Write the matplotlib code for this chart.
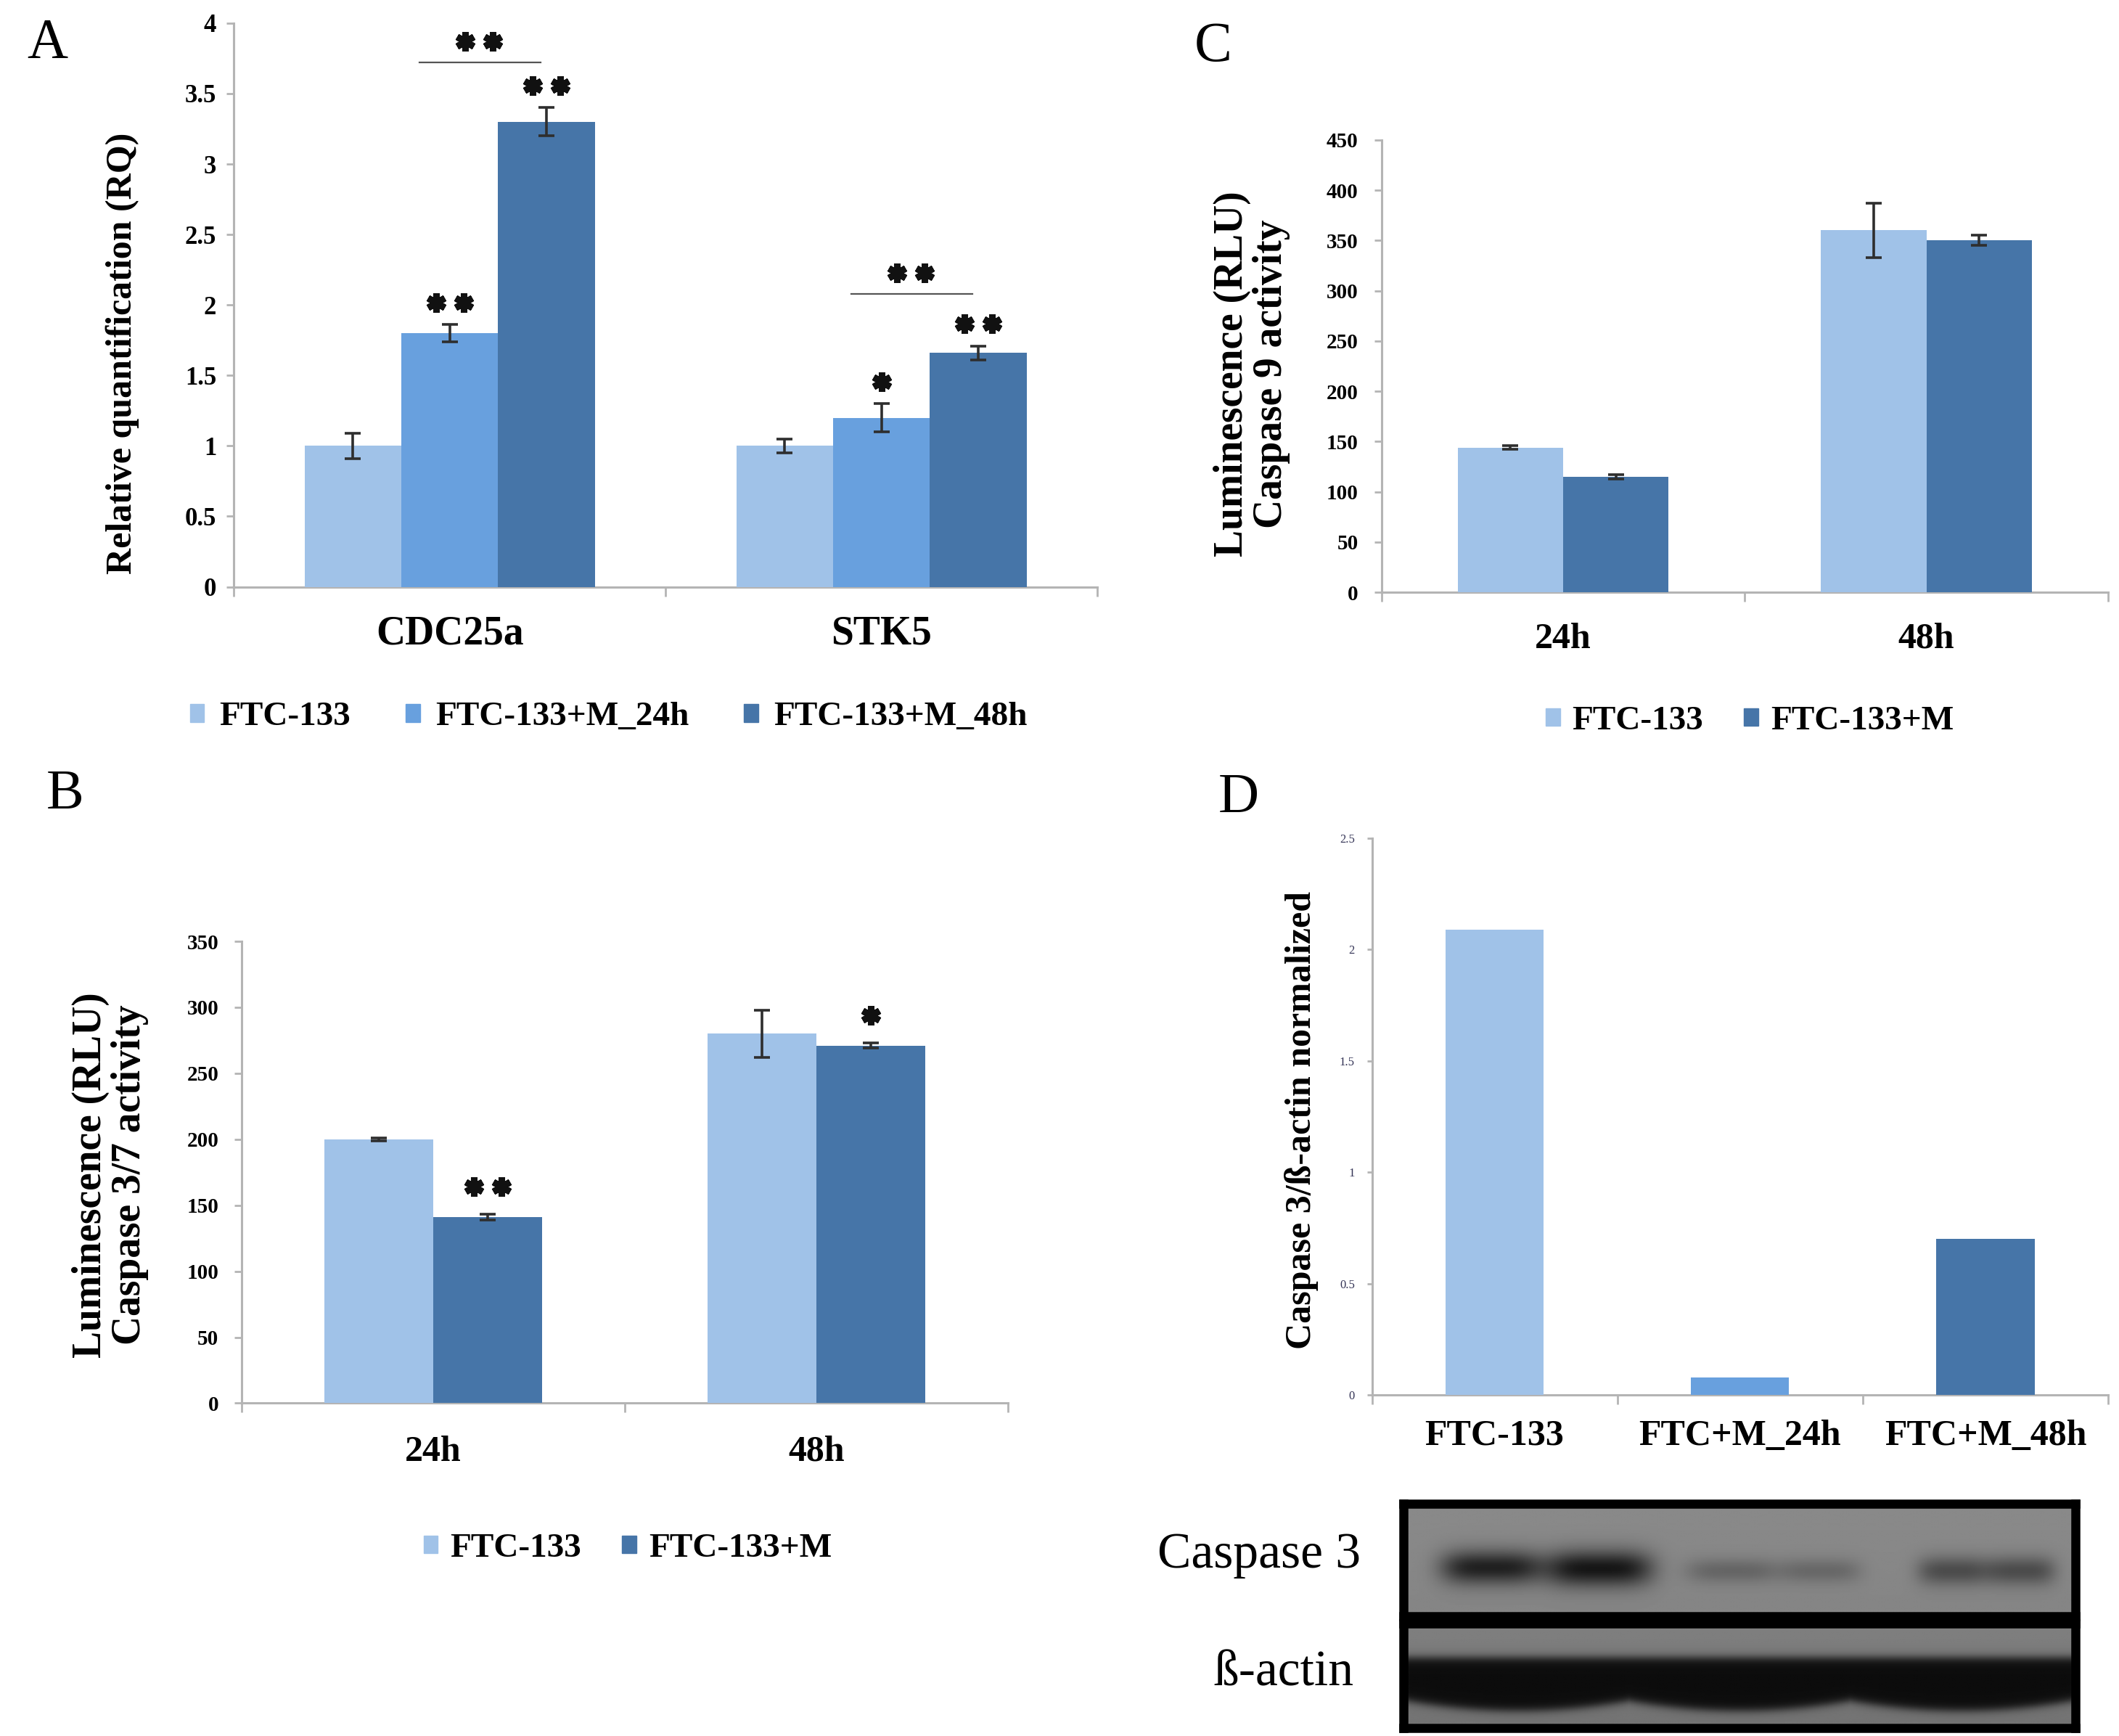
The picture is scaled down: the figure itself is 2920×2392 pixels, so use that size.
import numpy as np
import matplotlib
matplotlib.use('Agg')
import matplotlib.pyplot as plt
from matplotlib.patches import Patch

# ---------------- data ----------------
a_genes = ['CDC25a', 'STK5']
a_series = ['FTC-133', 'FTC-133+M_24h', 'FTC-133+M_48h']
a_ftc = [1.00, 1.00]
a_m24 = [1.80, 1.20]
a_m48 = [3.30, 1.66]
a_ftc_err = [0.09, 0.05]
a_m24_err = [0.06, 0.10]
a_m48_err = [0.10, 0.05]
a_yticks = [0, 0.5, 1, 1.5, 2, 2.5, 3, 3.5, 4]
a_yticklabels = ['0', '0.5', '1', '1.5', '2', '2.5', '3', '3.5', '4']
# (gene index, series index, number of stars)
a_bar_stars = [(0, 1, 2), (0, 2, 2), (1, 1, 1), (1, 2, 2)]
# (gene index, number of stars, bracket level)
a_brackets = [(0, 2, 3.72), (1, 2, 2.08)]

b_times = ['24h', '48h']
b_series = ['FTC-133', 'FTC-133+M']
b_ftc = [200, 280]
b_m = [141, 271]
b_ftc_err = [1, 18]
b_m_err = [2, 2]
b_yticks = [0, 50, 100, 150, 200, 250, 300, 350]
b_bar_stars = [(0, 1, 2), (1, 1, 1)]

c_times = ['24h', '48h']
c_series = ['FTC-133', 'FTC-133+M']
c_ftc = [144, 360]
c_m = [115, 350]
c_ftc_err = [2, 27]
c_m_err = [2, 5]
c_yticks = [0, 50, 100, 150, 200, 250, 300, 350, 400, 450]

d_groups = ['FTC-133', 'FTC+M_24h', 'FTC+M_48h']
d_values = [2.09, 0.08, 0.70]
d_yticks = [0, 0.5, 1, 1.5, 2, 2.5]
d_yticklabels = ['0', '0.5', '1', '1.5', '2', '2.5']

blot_labels = ['Caspase 3', 'ß-actin']

# ---------------- style ----------------
plt.rcParams['font.family'] = ['Liberation Serif', 'DejaVu Serif']
LIGHT = '#A0C2E8'
MID = '#68A0DE'
DARK = '#4675A8'
AXG = '#B4B4B4'
ERR = '#2E2E2E'

W, H = 1560.0, 1278.0  # layout reference grid
FIG_W_PX = 2920


def rect(x0, y0, x1, y1):
    return [x0 / W, 1 - y1 / H, (x1 - x0) / W, (y1 - y0) / H]


fig = plt.figure(figsize=(29.2, 23.92), dpi=100)


def style_axes(ax, ncat, ymax, yticks, yticklabels, cats, tick_fs, cat_fs,
               cat_pad, tick_pad, tick_weight='bold', tick_len=7):
    ax.set_xlim(-0.5, ncat - 0.5)
    ax.set_ylim(0, ymax)
    for s in ['top', 'right']:
        ax.spines[s].set_visible(False)
    for s in ['left', 'bottom']:
        ax.spines[s].set_color(AXG)
        ax.spines[s].set_linewidth(2.2)
    ax.set_xticks(range(ncat))
    ax.set_xticklabels(cats, fontsize=cat_fs, fontweight='bold')
    ax.tick_params(axis='x', which='major', length=0, pad=cat_pad)
    ax.set_xticks(np.arange(-0.5, ncat, 1.0), minor=True)
    ax.tick_params(axis='x', which='minor', length=9, width=2, color=AXG)
    ax.set_yticks(yticks)
    ax.set_yticklabels(yticklabels, fontsize=tick_fs, fontweight=tick_weight)
    ax.tick_params(axis='y', length=tick_len, width=2, color=AXG, pad=tick_pad)
    ax.set_facecolor('none')


def stars(ax, x, y, n, ncat):
    # heavy six-armed asterisks, 38 px apart
    ax_w_px = ax.get_position().width * FIG_W_PX
    step = 38.0 / (ax_w_px / ncat)
    xs = [x + (k - (n - 1) / 2) * step for k in range(n)]
    ax.plot(xs, [y] * n, linestyle='none', marker=(6, 2, 0), ms=19, mew=6.5,
            color='#111111', zorder=5)


ekw = dict(fmt='none', ecolor=ERR, elinewidth=2.6, capsize=8, capthick=2.6, zorder=4)

# ---------------- panel A ----------------
axA = fig.add_axes(rect(172, 17, 808, 432))
wA = 0.224
xa = np.arange(len(a_genes))
a_vals = [a_ftc, a_m24, a_m48]
a_errs = [a_ftc_err, a_m24_err, a_m48_err]
a_cols = [LIGHT, MID, DARK]
for i in range(3):
    xs = xa + (i - 1) * wA
    axA.bar(xs, a_vals[i], width=wA, color=a_cols[i], zorder=3)
    axA.errorbar(xs, a_vals[i], yerr=a_errs[i], **ekw)
style_axes(axA, 2, 4, a_yticks, a_yticklabels, a_genes, 25, 40, 28, 10)
for g, si, n in a_bar_stars:
    top = a_vals[si][g] + a_errs[si][g]
    stars(axA, g + (si - 1) * wA, top + 0.155, n, 2)
for g, n, lvl in a_brackets:
    axA.plot([g - 0.07, g + 0.21], [lvl, lvl], color='#555555', lw=1.6, zorder=4)
    stars(axA, g + 0.068, lvl + 0.15, n, 2)
axA.text(-0.129, 0.414, 'Relative quantification (RQ)', transform=axA.transAxes,
         rotation=90, ha='center', va='center', fontsize=36, fontweight='bold')
fig.legend([Patch(color=c) for c in a_cols], a_series, loc='center',
           bbox_to_anchor=(448 / W, 1 - 528 / H), ncol=3, frameon=False,
           handlelength=0.42, handleheight=0.42, handletextpad=0.45,
           columnspacing=1.6, prop={'weight': 'bold', 'size': 34})

# ---------------- panel C ----------------
axC = fig.add_axes(rect(1017, 103, 1552, 436))
wC = 0.29
xc = np.arange(len(c_times))
for i, (v, e, c) in enumerate([(c_ftc, c_ftc_err, LIGHT), (c_m, c_m_err, DARK)]):
    xs = xc + (i - 0.5) * wC
    axC.bar(xs, v, width=wC, color=c, zorder=3)
    axC.errorbar(xs, v, yerr=e, **ekw)
style_axes(axC, 2, 450, c_yticks, [str(t) for t in c_yticks], c_times, 21, 36, 30, 16)
axC.text(-0.178, 0.483, 'Luminescence (RLU)\nCaspase 9 activity', transform=axC.transAxes,
         rotation=90, ha='center', va='center', fontsize=40, fontweight='bold',
         linespacing=1.05, multialignment='center')
fig.legend([Patch(color=LIGHT), Patch(color=DARK)], c_series, loc='center',
           bbox_to_anchor=(1288 / W, 1 - 531 / H), ncol=2, frameon=False,
           handlelength=0.42, handleheight=0.42, handletextpad=0.35,
           columnspacing=1.2, prop={'weight': 'bold', 'size': 34})

# ---------------- panel B ----------------
axB = fig.add_axes(rect(178, 693, 742, 1033))
wB = 0.284
xb = np.arange(len(b_times))
b_vals = [b_ftc, b_m]
b_errs = [b_ftc_err, b_m_err]
for i, c in enumerate([LIGHT, DARK]):
    xs = xb + (i - 0.5) * wB
    axB.bar(xs, b_vals[i], width=wB, color=c, zorder=3)
    axB.errorbar(xs, b_vals[i], yerr=b_errs[i], **ekw)
style_axes(axB, 2, 350, b_yticks, [str(t) for t in b_yticks], b_times, 21, 36, 32, 16)
for g, si, n in b_bar_stars:
    top = b_vals[si][g] + b_errs[si][g]
    stars(axB, g + (si - 0.5) * wB, top + 21, n, 2)
axB.text(-0.172, 0.494, 'Luminescence (RLU)\nCaspase 3/7 activity', transform=axB.transAxes,
         rotation=90, ha='center', va='center', fontsize=40, fontweight='bold',
         linespacing=1.05, multialignment='center')
fig.legend([Patch(color=LIGHT), Patch(color=DARK)], b_series, loc='center',
           bbox_to_anchor=(462 / W, 1 - 1140 / H), ncol=2, frameon=False,
           handlelength=0.42, handleheight=0.42, handletextpad=0.35,
           columnspacing=1.2, prop={'weight': 'bold', 'size': 34})

# ---------------- panel D ----------------
axD = fig.add_axes(rect(1010, 617, 1552, 1027))
wD = 0.40
d_cols = [LIGHT, MID, DARK]
axD.bar(np.arange(len(d_groups)), d_values, width=wD, color=d_cols, zorder=3)
style_axes(axD, 3, 2.5, d_yticks, d_yticklabels, d_groups, 12, 36, 24, 12,
           tick_weight='normal', tick_len=5)
for lab in axD.get_yticklabels():
    lab.set_color('#333355')
axD.text(-0.096, 0.493, 'Caspase 3/ß-actin normalized', transform=axD.transAxes,
         rotation=90, ha='center', va='center', fontsize=36, fontweight='bold')

# ---------------- western blot ----------------
nx, ny = 500, 90
gx = np.linspace(0, 1, nx)[None, :]
gy = np.linspace(0, 1, ny)[:, None]


def blob(xc, yc, sx, sy, amp):
    return amp * np.exp(-(((gx - xc) / sx) ** 4) - (((gy - yc) / sy) ** 2))


casp = 0.54 - 0.02 * gy
casp = casp - blob(0.13, 0.57, 0.075, 0.15, 0.40) - blob(0.29, 0.58, 0.08, 0.16, 0.44)
casp = casp - blob(0.49, 0.6, 0.07, 0.11, 0.13) - blob(0.62, 0.6, 0.06, 0.11, 0.12)
casp = casp - blob(0.82, 0.6, 0.055, 0.13, 0.23) - blob(0.92, 0.6, 0.05, 0.13, 0.23)
casp = np.clip(casp, 0, 1)

lane_c = np.array([0.17, 0.5, 0.83])
bump = np.max(np.clip(1 - ((gx[0][:, None] - lane_c[None, :]) / 0.2) ** 2, 0, 1), axis=1)
bottom = 0.70 + 0.14 * bump
top_edge = 0.33
act = np.full((ny, nx), 0.5) - 0.05 * gy
inside = 1 / (1 + np.exp(-(gy - top_edge) / 0.025)) * (1 / (1 + np.exp((gy - bottom[None, :]) / 0.025)))
act = act * (1 - inside) + 0.05 * inside
act = np.clip(act, 0, 1)

for (y0, y1, img) in [(1107, 1190, casp), (1195, 1272, act)]:
    axb = fig.add_axes(rect(1033, y0, 1528, y1))
    axb.imshow(img, cmap='gray', vmin=0, vmax=1, aspect='auto', interpolation='bilinear')
    axb.set_xticks([])
    axb.set_yticks([])
    for s in axb.spines.values():
        s.set_linewidth(9)
        s.set_color('black')

fig.text(927 / W, 1 - 1145 / H, blot_labels[0], ha='center', va='center', fontsize=50)
fig.text(945 / W, 1 - 1232 / H, blot_labels[1], ha='center', va='center', fontsize=50)

# ---------------- panel letters ----------------
for lab, x, y in [('A', 35, 32), ('C', 893, 35), ('B', 48, 585), ('D', 912, 588)]:
    fig.text(x / W, 1 - y / H, lab, ha='center', va='center', fontsize=56)

fig.savefig('out.png', dpi=100, facecolor='white')
